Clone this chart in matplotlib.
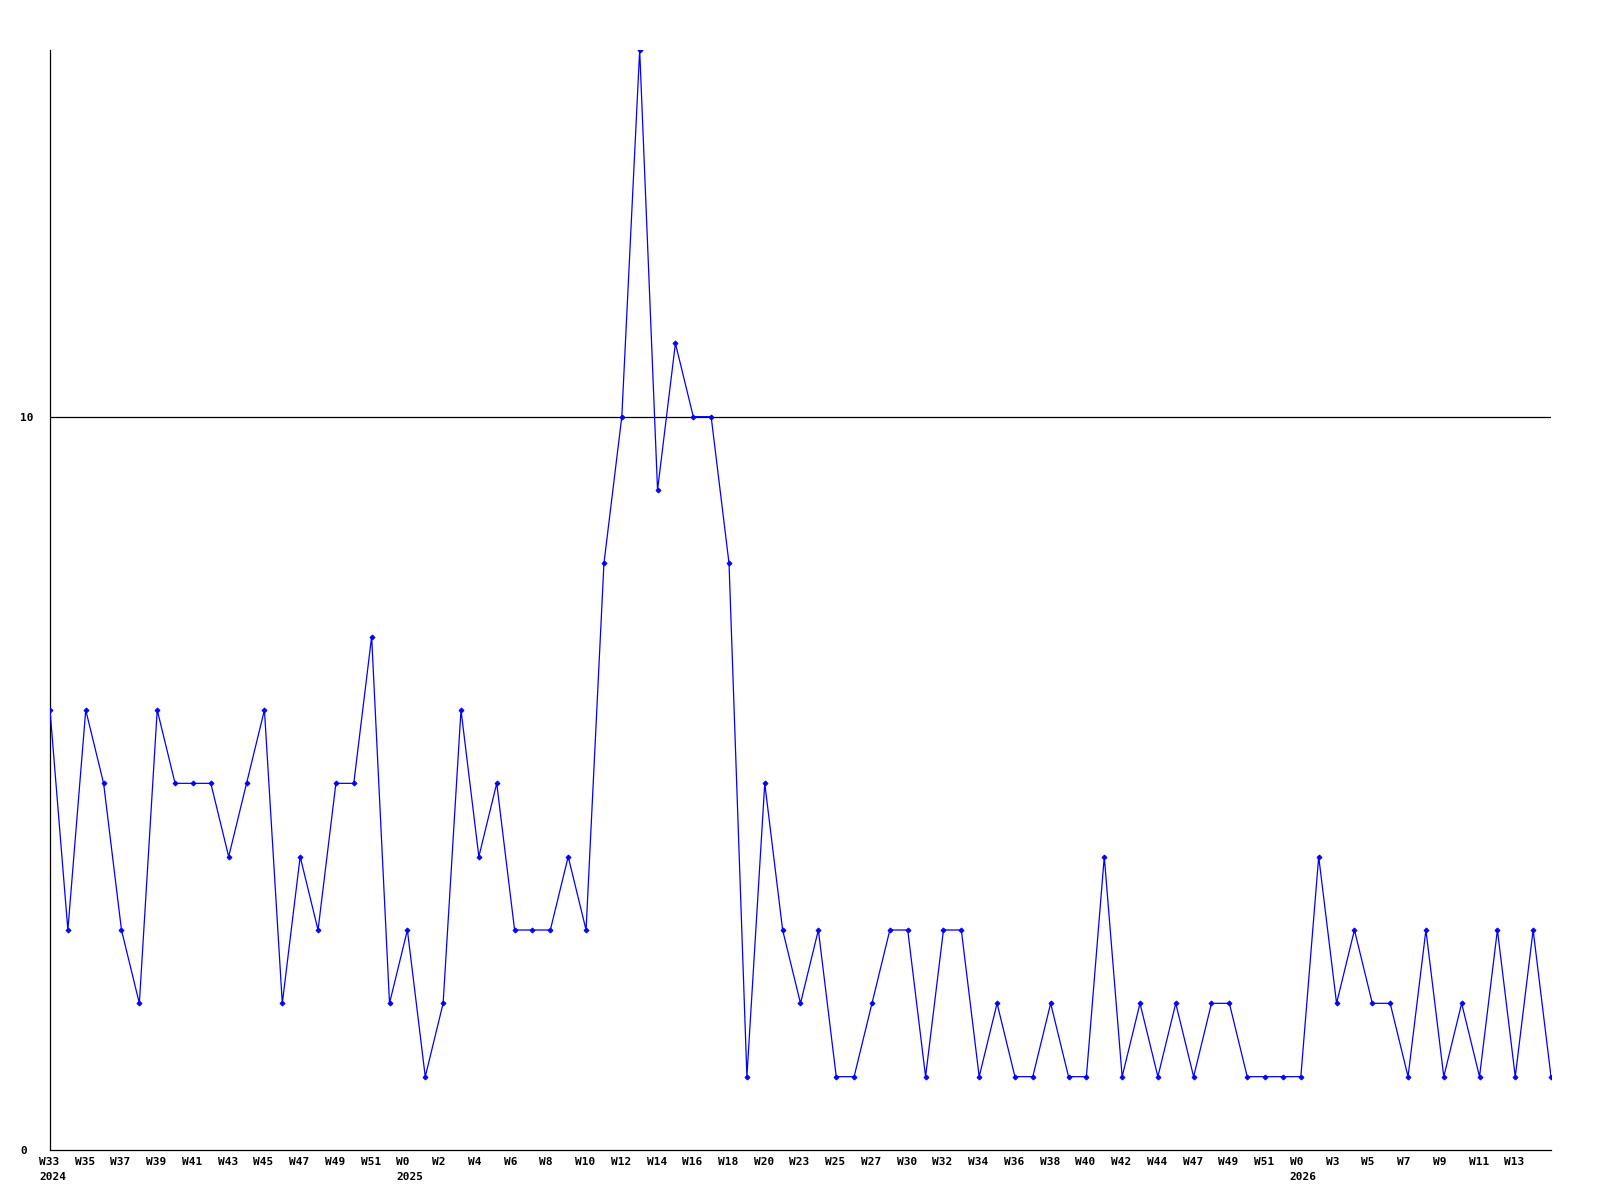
import matplotlib
matplotlib.use("Agg")
import matplotlib.pyplot as plt
from matplotlib.transforms import ScaledTranslation

# Data
values = [6, 3, 6, 5, 3, 2, 6, 5, 5, 5, 4, 5, 6, 2, 4, 3, 5, 5, 7, 2,
          3, 1, 2, 6, 4, 5, 3, 3, 3, 4, 3, 8, 10, 15, 9, 11, 10, 10, 8, 1,
          5, 3, 2, 3, 1, 1, 2, 3, 3, 1, 3, 3, 1, 2, 1, 1, 2, 1, 1, 4,
          1, 2, 1, 2, 1, 2, 2, 1, 1, 1, 1, 4, 2, 3, 2, 2, 1, 3, 1, 2,
          1, 3, 1, 3, 1]
week_labels = ["W33", "W35", "W37", "W39", "W41", "W43", "W45", "W47", "W49", "W51",
               "W0", "W2", "W4", "W6", "W8", "W10", "W12", "W14", "W16", "W18",
               "W20", "W23", "W25", "W27", "W30", "W32", "W34", "W36", "W38", "W40",
               "W42", "W44", "W47", "W49", "W51", "W0", "W3", "W5", "W7", "W9",
               "W11", "W13"]
year_labels = {0: "2024", 10: "2025", 35: "2026"}
y_ticks = [0, 10]

fig = plt.figure(figsize=(16, 12), dpi=100)
ax = fig.add_axes([50 / 1600, 50 / 1200, 1501 / 1600, 1100 / 1200])

x = list(range(len(values)))
ax.axhline(10, color="black", linewidth=0.9, zorder=1)
ax.plot(x, values, color="#0000ff", linewidth=0.9, marker="D", markersize=2.6,
        markeredgewidth=0.6, zorder=3)

ax.set_xlim(0, len(values) - 1)
ax.set_ylim(0, 15)
for s in ("top", "right"):
    ax.spines[s].set_visible(False)
for s in ("left", "bottom"):
    ax.spines[s].set_linewidth(0.9)
    ax.spines[s].set_color("black")
ax.set_xticks([])
ax.set_yticks([])

font = dict(family="DejaVu Sans Mono", fontweight="bold", fontsize=8)

xt = ax.get_xaxis_transform()
for i, lab in enumerate(week_labels):
    pos = i * 2
    off = ScaledTranslation(-0.11, -0.12, fig.dpi_scale_trans)
    ax.text(pos, 0, lab, transform=xt + off, ha="left", va="center", **font)
    if i in year_labels:
        off2 = ScaledTranslation(-0.11, -0.275, fig.dpi_scale_trans)
        ax.text(pos, 0, year_labels[i], transform=xt + off2, ha="left", va="center", **font)

yt = ax.get_yaxis_transform()
for v in y_ticks:
    off = ScaledTranslation(-0.30, -0.01, fig.dpi_scale_trans)
    ax.text(0, v, str(v), transform=yt + off, ha="left", va="center", **font)

fig.savefig("out.png", dpi=100, facecolor="white")
